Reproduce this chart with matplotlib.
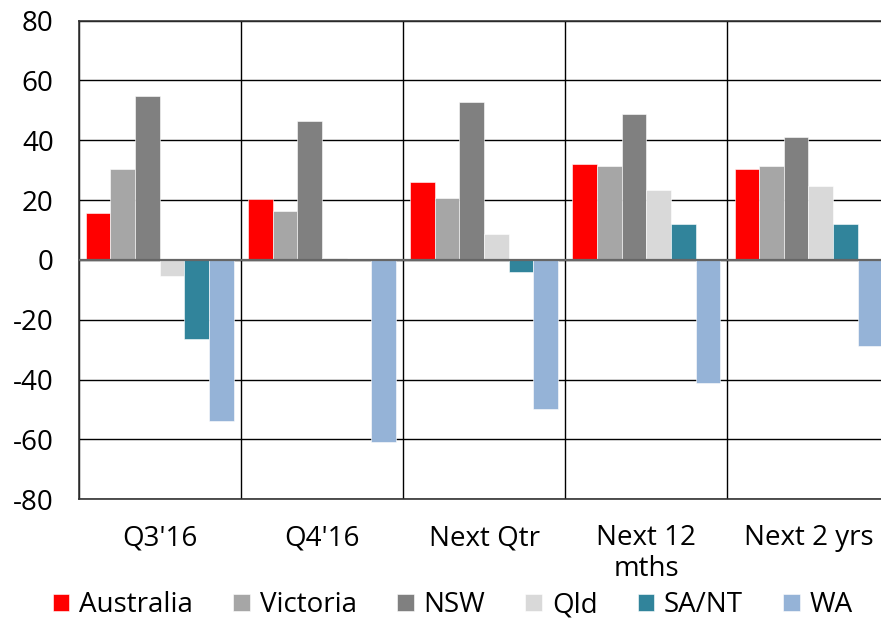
import numpy as np
import matplotlib.pyplot as plt
from matplotlib.ticker import MultipleLocator

plt.rcParams['font.family'] = ['Open Sans', 'DejaVu Sans']
plt.rcParams['axes.unicode_minus'] = False

# Net balance by state, per period
periods = ["Q3'16", "Q4'16", "Next Qtr", "Next 12\nmths", "Next 2 yrs"]
states = ['Australia', 'Victoria', 'NSW', 'Qld', 'SA/NT', 'WA']
australia = [15.6, 20.5, 26.2, 32.0, 30.4]
victoria = [30.3, 16.5, 20.6, 31.3, 31.3]
nsw = [54.8, 46.5, 52.9, 48.8, 41.1]
qld = [-5.3, 0.5, 8.8, 23.3, 24.6]
sa_nt = [-26.5, 0.0, -3.9, 12.0, 12.0]
wa = [-53.7, -61.0, -49.9, -41.1, -28.6]

series = [australia, victoria, nsw, qld, sa_nt, wa]
colors = ['#FF0000', '#A6A6A6', '#808080', '#D9D9D9', '#31849B', '#95B3D7']

fig = plt.figure(figsize=(8.81, 6.24), dpi=100)
ax = fig.add_axes([0.0893, 0.1998, 0.9204, 0.7673])

x = np.arange(len(periods))
width = 0.152
offsets = (np.arange(len(states)) - (len(states) - 1) / 2) * width
for vals, off, col, name in zip(series, offsets, colors, states):
    ax.bar(x + off, vals, width, color=col, label=name, zorder=3,
           edgecolor='white', linewidth=0.4)

ax.set_xlim(-0.5, len(periods) - 0.5)
ax.set_ylim(-80, 80)
ax.yaxis.set_major_locator(MultipleLocator(20))
ax.set_xticks(x)
ax.set_xticklabels(periods, fontsize=20, linespacing=1.15)
ax.set_xticks(np.arange(len(periods) + 1) - 0.5, minor=True)
ax.tick_params(axis='both', which='both', length=0)
ax.tick_params(axis='y', labelsize=20, pad=18)
ax.tick_params(axis='x', pad=18)

ax.grid(axis='y', which='major', color='black', linewidth=1.0, zorder=0)
ax.grid(axis='x', which='minor', color='black', linewidth=1.0, zorder=0)
ax.axhline(0, color='#666666', linewidth=1.6, zorder=4)

for side in ['top', 'left', 'bottom']:
    ax.spines[side].set_color('#333333')
    ax.spines[side].set_linewidth(1.2)

fig.legend(loc='center', bbox_to_anchor=(0.514, 0.03), ncol=6, frameon=False,
           fontsize=20, handlelength=0.6, handleheight=0.6,
           handletextpad=0.35, columnspacing=1.45, borderaxespad=0)

fig.savefig('out.png', dpi=100)
